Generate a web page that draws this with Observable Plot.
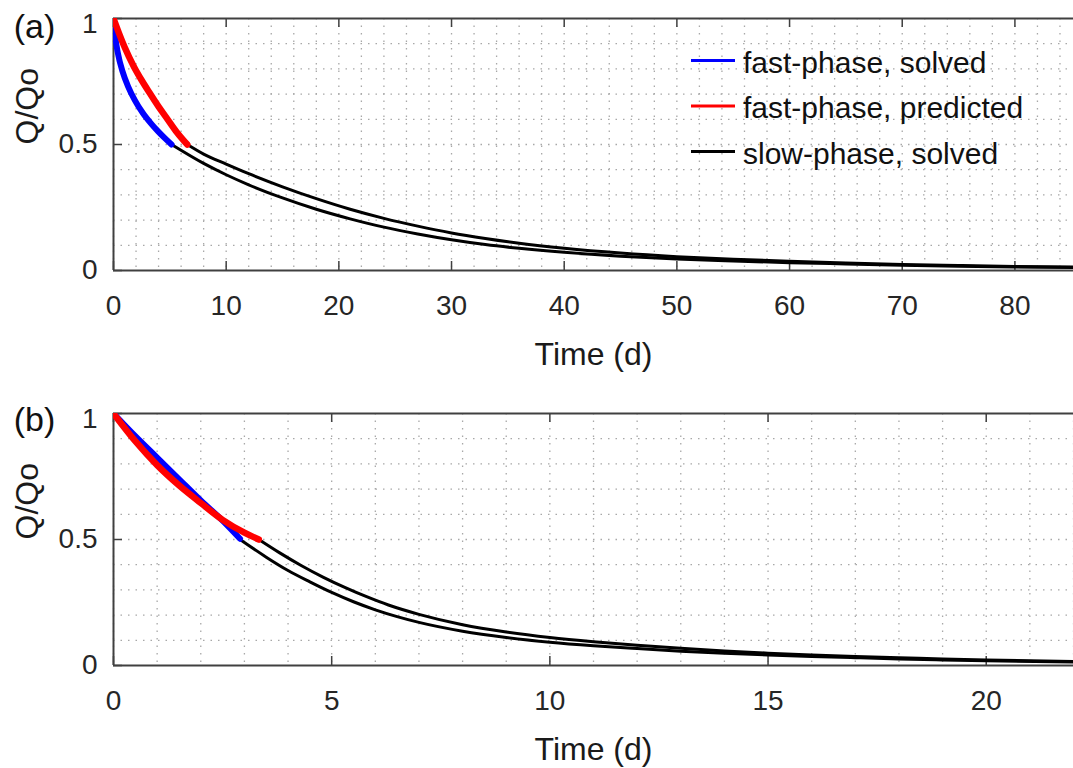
<!DOCTYPE html>
<html>
<head>
<meta charset="utf-8">
<script src="https://cdn.jsdelivr.net/npm/d3@7"></script>
<script src="https://cdn.jsdelivr.net/npm/@observablehq/plot@0.6"></script>
<style>
  html, body { margin: 0; padding: 0; background: #fff; }
  #chart { width: 1073px; height: 768px; overflow: hidden; }
  #chart svg { display: block; }
</style>
</head>
<body>
<div id="chart"></div>
<script>
// ---------- Panel (a) data ----------
const aFastSolvedT = [0, 0.15, 0.4, 0.8, 1.3, 1.9, 2.6, 3.3, 4.0, 4.6, 5.15];
const aFastSolvedQ = [1, 0.93, 0.86, 0.79, 0.73, 0.675, 0.625, 0.585, 0.55, 0.523, 0.5];
const aFastPredT = [0, 0.5, 1, 1.8, 2.5, 3.2, 4, 4.8, 5.6, 6.55];
const aFastPredQ = [1, 0.94, 0.885, 0.81, 0.755, 0.705, 0.65, 0.6, 0.55, 0.5];
const aSlow1T = [5.15, 8, 10, 12, 15, 18, 21, 24, 27, 30, 33, 36, 40, 45, 50, 55, 60, 65, 70, 75, 80, 86];
const aSlow1Q = [0.5, 0.425, 0.38, 0.34, 0.288, 0.243, 0.205, 0.172, 0.145, 0.122, 0.103, 0.088, 0.072, 0.057, 0.046, 0.038, 0.031, 0.026, 0.021, 0.017, 0.014, 0.011];
const aSlow2T = [6.55, 8, 10, 12, 15, 18, 21, 24, 27, 30, 33, 36, 40, 45, 50, 55, 60, 65, 70, 75, 80, 86];
const aSlow2Q = [0.5, 0.462, 0.422, 0.384, 0.332, 0.285, 0.243, 0.207, 0.176, 0.149, 0.127, 0.108, 0.088, 0.069, 0.055, 0.045, 0.037, 0.03, 0.024, 0.02, 0.016, 0.013];
const aXTicks = [0, 10, 20, 30, 40, 50, 60, 70, 80];

// ---------- Panel (b) data ----------
const bFastSolvedT = [0, 0.5, 1, 1.5, 2, 2.5, 2.9];
const bFastSolvedQ = [1, 0.91, 0.825, 0.74, 0.655, 0.575, 0.503];
const bFastPredT = [0, 0.5, 1, 1.5, 2, 2.5, 3, 3.33];
const bFastPredQ = [1, 0.89, 0.795, 0.715, 0.645, 0.578, 0.527, 0.5];
const bSlow1T = [2.9, 3.5, 4, 4.5, 5, 5.5, 6, 6.5, 7, 8, 9, 10, 11, 12, 13, 14, 15, 16, 17, 18, 19, 20, 22];
const bSlow1Q = [0.5, 0.43, 0.377, 0.332, 0.29, 0.253, 0.221, 0.194, 0.171, 0.136, 0.111, 0.092, 0.078, 0.067, 0.057, 0.049, 0.042, 0.036, 0.031, 0.026, 0.022, 0.019, 0.014];
const bSlow2T = [3.33, 3.8, 4.3, 4.8, 5.3, 5.8, 6.3, 7, 8, 9, 10, 11, 12, 13, 14, 15, 16, 17, 18, 19, 20, 22];
const bSlow2Q = [0.5, 0.448, 0.397, 0.351, 0.31, 0.273, 0.24, 0.203, 0.162, 0.133, 0.111, 0.094, 0.08, 0.068, 0.058, 0.049, 0.042, 0.036, 0.031, 0.026, 0.022, 0.016];
const bXTicks = [0, 5, 10, 15, 20];

// ---------- shared ----------
const yTicks = [0, 0.5, 1];
const legendLabels = ["fast-phase, solved", "fast-phase, predicted", "slow-phase, solved"];
const legendColors = ["#0000ff", "#ff0000", "#000000"];
const xLabel = "Time (d)";
const yLabel = "Q/Qo";

const zip = (ts, qs) => ts.map((t, i) => ({t, q: qs[i]}));

const FONT = "'Liberation Sans', Arial, Helvetica, sans-serif";
const AXIS_COLOR = "#404040";
const GRID_COLOR = "#a8a8a8";
const TICK_LEN = 9;

function panel({panelLabel, xDomain, xTicks, gridStep, fastSolved, fastPred, slow1, slow2,
                height, marginTop, marginBottom, showLegend, labelDy}) {
  const width = 1073, marginLeft = 113, marginRight = 0;
  const plotW = width - marginLeft - marginRight;
  const plotH = height - marginTop - marginBottom;
  const gridX = d3.range(0, xDomain[1] + 1e-9, gridStep);
  const gridY = d3.range(0.1, 1, 0.1);
  const yMax = d3.max(yTicks);

  const legend = () => {
    const g = d3.create("svg:g");
    legendLabels.forEach((lab, i) => {
      const y = 60.5 + i * 45.5 + (marginTop - 18);
      g.append("line").attr("x1", 691).attr("x2", 735).attr("y1", y).attr("y2", y)
        .attr("stroke", legendColors[i]).attr("stroke-width", 3);
      g.append("text").attr("x", 743).attr("y", y).attr("dy", "0.4em")
        .attr("text-anchor", "start")
        .attr("fill", "#111").style("font-size", "30px").text(lab);
    });
    return g.node();
  };

  return Plot.plot({
    width, height, marginLeft, marginRight, marginTop, marginBottom,
    style: {fontFamily: FONT, fontSize: "28px", color: "#262626", background: "#fff"},
    x: {domain: xDomain, range: [marginLeft, width - marginRight]},
    y: {domain: [0, 1]},
    marks: [
      // dotted grid
      Plot.ruleX(gridX, {x: d => d, stroke: GRID_COLOR, strokeWidth: 1.3, strokeDasharray: "1.5,6"}),
      Plot.ruleY(gridY, {y: d => d, stroke: GRID_COLOR, strokeWidth: 1.3, strokeDasharray: "1.5,6"}),
      // axes frame (no right border: clipped)
      Plot.ruleY([0], {stroke: AXIS_COLOR, strokeWidth: 2}),
      Plot.ruleY([1], {stroke: AXIS_COLOR, strokeWidth: 2}),
      Plot.ruleX([0], {stroke: AXIS_COLOR, strokeWidth: 2}),
      // inward ticks
      Plot.tickX(xTicks, {x: d => d, insetTop: plotH - TICK_LEN, stroke: AXIS_COLOR, strokeWidth: 1.5}),
      Plot.tickX(xTicks, {x: d => d, insetBottom: plotH - TICK_LEN, stroke: AXIS_COLOR, strokeWidth: 1.5}),
      Plot.tickY(yTicks, {y: d => d, insetRight: plotW - TICK_LEN, stroke: AXIS_COLOR, strokeWidth: 1.5}),
      // tick labels
      Plot.axisX({ticks: xTicks, tickSize: 0, tickPadding: 25, label: null, tickFormat: d => String(d)}),
      Plot.axisY({ticks: yTicks.filter(d => d < yMax), tickSize: 0, tickPadding: 16, label: null, tickFormat: d => String(d)}),
      Plot.axisY({ticks: yTicks.filter(d => d === yMax), tickSize: 0, tickPadding: 16, label: null, dy: 6, tickFormat: d => String(d)}),
      // data curves
      Plot.line(slow2, {x: "t", y: "q", stroke: "#000", strokeWidth: 3, curve: "monotone-x", clip: true}),
      Plot.line(slow1, {x: "t", y: "q", stroke: "#000", strokeWidth: 3, curve: "monotone-x", clip: true}),
      Plot.line(fastSolved, {x: "t", y: "q", stroke: "#0000ff", strokeWidth: 6, curve: "monotone-x", clip: true}),
      Plot.line(fastPred, {x: "t", y: "q", stroke: "#ff0000", strokeWidth: 6.5, curve: "monotone-x", clip: true}),
      // axis labels
      Plot.text([xLabel], {text: d => d, frameAnchor: "bottom", dy: 72, lineAnchor: "top",
                           fontSize: 32, fill: "#1a1a1a"}),
      Plot.text([yLabel], {text: d => d, frameAnchor: "left", dx: -86, rotate: -90,
                           fontSize: 32, fill: "#1a1a1a"}),
      Plot.text([panelLabel], {text: d => d, frameAnchor: "top-left", dx: -79, dy: labelDy,
                               textAnchor: "middle", lineAnchor: "middle", fontSize: 34, fill: "#111"}),
      ...(showLegend ? [legend] : [])
    ]
  });
}

const chart = document.getElementById("chart");
chart.appendChild(panel({
  panelLabel: "(a)", xDomain: [0, 85.2], xTicks: aXTicks, gridStep: 2,
  fastSolved: zip(aFastSolvedT, aFastSolvedQ), fastPred: zip(aFastPredT, aFastPredQ),
  slow1: zip(aSlow1T, aSlow1Q), slow2: zip(aSlow2T, aSlow2Q),
  height: 390, marginTop: 18, marginBottom: 120, showLegend: true, labelDy: 9
}));
chart.appendChild(panel({
  panelLabel: "(b)", xDomain: [0, 22], xTicks: bXTicks, gridStep: 1,
  fastSolved: zip(bFastSolvedT, bFastSolvedQ), fastPred: zip(bFastPredT, bFastPredQ),
  slow1: zip(bSlow1T, bSlow1Q), slow2: zip(bSlow2T, bSlow2Q),
  height: 378, marginTop: 23, marginBottom: 103, showLegend: false, labelDy: 7
}));
</script>
</body>
</html>
